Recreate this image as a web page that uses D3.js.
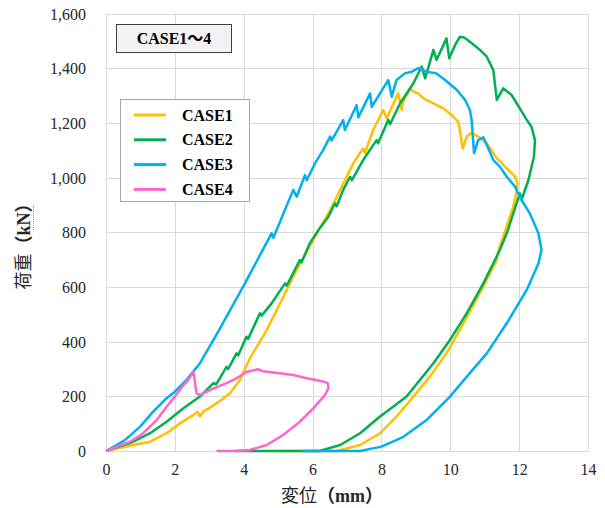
<!DOCTYPE html>
<html>
<head>
<meta charset="utf-8">
<script src="https://cdn.jsdelivr.net/npm/d3@7"></script>
<style>
  body { margin: 0; background: #fff; }
  svg text { font-family: "Liberation Serif", "Times New Roman", "Noto Sans CJK JP", serif; }
</style>
</head>
<body>
<div id="chart"></div>
<script>
// values: [displacement mm, load kN]
var case1 = [[0,0],[0.79,22],[1.28,34],[1.76,65],[2.15,101],[2.54,132],[2.66,144],[2.73,126],[2.83,144],
  [3.21,174],[3.6,211],[3.89,260],[4.18,339],[4.38,381],[4.67,443],[4.96,516],[5.54,662],[6.02,772],
  [6.51,881],[7.09,1028],[7.18,1052],[7.47,1107],[7.52,1090],[7.76,1174],[8.05,1247],[8.15,1217],
  [8.49,1308],[8.59,1247],[8.62,1275],[8.83,1326],[8.93,1314],[9.07,1308],[9.22,1290],[9.41,1278],
  [9.8,1253],[10.04,1229],[10.23,1204],[10.27,1180],[10.36,1107],[10.48,1150],[10.62,1164],[10.81,1150],
  [11.06,1125],[11.35,1071],[11.64,1034],[11.88,1003],[11.95,979],[11.93,950],[11.83,894],[11.54,784],
  [11.4,735],[11.35,698],[10.86,577],[10.38,467],[9.89,357],[9.41,272],[8.93,199],[8.44,126],
  [7.96,65],[7.38,22],[6.7,0],[5.0,0]];

var case2 = [[0,0],[0.79,34],[1.28,65],[1.76,107],[2.25,156],[2.73,199],[3.12,248],[3.2,244],[3.5,308],
  [3.55,300],[3.79,357],[3.84,350],[4.08,418],[4.13,410],[4.47,504],[4.52,495],[4.81,540],[5.2,613],
  [5.25,605],[5.63,698],[5.68,690],[5.92,760],[6.17,808],[6.46,857],[6.65,906],[6.7,895],[6.89,955],
  [7.09,1003],[7.14,990],[7.47,1064],[7.86,1137],[7.9,1125],[8.2,1211],[8.25,1195],[8.54,1271],
  [8.93,1345],[9.17,1406],[9.27,1363],[9.51,1467],[9.6,1430],[9.89,1509],[9.97,1436],[10.14,1485],
  [10.28,1515],[10.4,1512],[10.57,1497],[10.86,1467],[11.06,1442],[11.25,1393],[11.35,1284],
  [11.54,1326],[11.78,1302],[12.02,1253],[12.22,1211],[12.36,1186],[12.46,1137],[12.43,1076],
  [12.27,991],[12.07,918],[12.02,942],[11.64,796],[11.44,735],[10.96,613],[10.48,504],[9.99,406],
  [9.51,321],[8.73,199],[8.34,162],[7.96,126],[7.38,65],[6.8,22],[6.2,0],[3.75,0]];

var case3 = [[0,0],[0.55,40],[0.99,89],[1.37,144],[1.76,193],[2.0,217],[2.34,260],[2.73,321],[3.12,406],
  [3.21,426],[4.0,605],[4.81,796],[4.86,780],[5.44,955],[5.54,930],[5.78,1009],[5.83,990],[6.07,1052],
  [6.31,1101],[6.51,1150],[6.55,1135],[6.89,1210],[6.94,1174],[7.28,1265],[7.33,1220],[7.67,1308],
  [7.72,1259],[8.2,1357],[8.3,1296],[8.44,1357],[8.68,1381],[8.88,1387],[9.07,1400],[9.31,1387],
  [9.6,1381],[9.85,1357],[10.19,1320],[10.43,1284],[10.57,1247],[10.62,1211],[10.69,1089],[10.81,1137],
  [10.96,1147],[11.06,1119],[11.25,1064],[11.44,1040],[11.64,1003],[11.88,967],[12.07,918],[12.31,869],
  [12.56,796],[12.65,735],[12.56,686],[12.22,589],[11.64,467],[11.06,357],[10.48,272],[9.99,199],
  [9.31,113],[8.64,52],[8.0,16],[7.38,0],[5.72,0]];

var case4 = [[0,0],[0.7,34],[1.08,65],[1.47,113],[1.76,162],[2.0,199],[2.25,241],[2.39,260],[2.54,290],
  [2.63,211],[2.73,205],[3.02,223],[3.5,248],[3.79,266],[4.09,290],[4.42,299],[4.55,292],[5.05,284],
  [5.44,278],[5.83,266],[6.31,254],[6.44,248],[6.46,229],[6.36,205],[6.02,156],[5.63,107],[5.15,59],
  [4.67,22],[4.18,4],[3.79,0],[3.21,0]];

var seriesNames = ["CASE1", "CASE2", "CASE3", "CASE4"];
var seriesColors = ["#ffc000", "#00b050", "#00b0f0", "#ff66cc"];
var xTicks = [0, 2, 4, 6, 8, 10, 12, 14];
var yTicks = [0, 200, 400, 600, 800, 1000, 1200, 1400, 1600];

var width = 605, height = 508;
var margin = {left: 106, top: 13.5, right: 17, bottom: 57};

var svg = d3.select("#chart").append("svg")
    .attr("width", width)
    .attr("height", height);

var x = d3.scaleLinear().domain([0, 14]).range([margin.left, width - margin.right]);
var y = d3.scaleLinear().domain([0, 1600]).range([height - margin.bottom, margin.top]);

// grid
svg.append("g").selectAll("line.v")
  .data(xTicks).enter().append("line")
    .attr("x1", function(d) { return Math.round(x(d)) + 0.5; })
    .attr("x2", function(d) { return Math.round(x(d)) + 0.5; })
    .attr("y1", y(0)).attr("y2", y(1600))
    .attr("stroke", "#d9d9d9").attr("stroke-width", 1);
svg.append("g").selectAll("line.h")
  .data(yTicks).enter().append("line")
    .attr("y1", function(d) { return Math.round(y(d)) + 0.5; })
    .attr("y2", function(d) { return Math.round(y(d)) + 0.5; })
    .attr("x1", x(0)).attr("x2", x(14))
    .attr("stroke", "#d9d9d9").attr("stroke-width", 1);

// axes (labels only)
var fmt = d3.format(",");
var yAxis = svg.append("g")
    .attr("transform", "translate(" + (margin.left - 20) + ",0)")
    .call(d3.axisLeft(y).tickValues(yTicks).tickFormat(fmt).tickSize(0).tickPadding(0));
var xAxis = svg.append("g")
    .attr("transform", "translate(0," + (y(0) + 12) + ")")
    .call(d3.axisBottom(x).tickValues(xTicks).tickSize(0).tickPadding(0));
[yAxis, xAxis].forEach(function(a) {
  a.select(".domain").remove();
  a.selectAll("text").attr("font-size", 16).attr("fill", "#262626")
    .style("font-family", '"Liberation Serif", serif');
});
yAxis.selectAll("text").attr("dy", "0.35em");
xAxis.selectAll("text").attr("dy", "0.75em");

// lines
var line = d3.line().x(function(d) { return x(d[0]); }).y(function(d) { return y(d[1]); });
[case1, case2, case3, case4].forEach(function(data, i) {
  svg.append("path")
    .datum(data)
    .attr("fill", "none")
    .attr("stroke", seriesColors[i])
    .attr("stroke-width", 2.5)
    .attr("stroke-linejoin", "round")
    .attr("d", line);
});

// axis titles
var xt = svg.append("text")
    .attr("x", 332).attr("y", 502)
    .attr("text-anchor", "middle")
    .attr("font-size", 18).attr("fill", "#262626");
xt.append("tspan").text("変位").style("font-family", '"Noto Sans CJK JP", sans-serif');
xt.append("tspan").text("（mm）").attr("font-weight", "bold");

var yt = svg.append("text")
    .attr("transform", "translate(30,242) rotate(-90)")
    .attr("text-anchor", "middle")
    .attr("font-size", 18).attr("fill", "#262626");
yt.append("tspan").text("荷重").style("font-family", '"Noto Sans CJK JP", sans-serif');
yt.append("tspan").text("（kN）").attr("font-weight", "bold");

// spell-check squiggle under "kN" as in the source image
svg.append("line")
    .attr("x1", 33.5).attr("x2", 33.5).attr("y1", 205).attr("y2", 230)
    .attr("stroke", "#ff6060").attr("stroke-width", 1).attr("stroke-dasharray", "1,1");

// title box
svg.append("rect")
    .attr("x", 116.5).attr("y", 24.5).attr("width", 115).attr("height", 28)
    .attr("fill", "#f2f2f2").attr("stroke", "#404040").attr("stroke-width", 1);
svg.append("text")
    .attr("x", 174).attr("y", 44)
    .attr("text-anchor", "middle")
    .attr("font-size", 16).attr("font-weight", "bold").attr("fill", "#000")
    .text("CASE1～4");

// legend
var legend = svg.append("g");
legend.append("rect")
    .attr("x", 120.5).attr("y", 99.5).attr("width", 129).attr("height", 102)
    .attr("fill", "#fff").attr("stroke", "#a6a6a6").attr("stroke-width", 1);
var item = legend.selectAll("g.item")
  .data(seriesNames).enter().append("g")
    .attr("transform", function(d, i) { return "translate(0," + (115 + i * 24.8) + ")"; });
item.append("line")
    .attr("x1", 134).attr("x2", 166)
    .attr("stroke", function(d, i) { return seriesColors[i]; })
    .attr("stroke-width", 3);
item.append("text")
    .attr("x", 182).attr("dy", "0.35em")
    .attr("font-size", 16).attr("font-weight", "bold").attr("fill", "#000")
    .text(function(d) { return d; });
</script>
</body>
</html>
